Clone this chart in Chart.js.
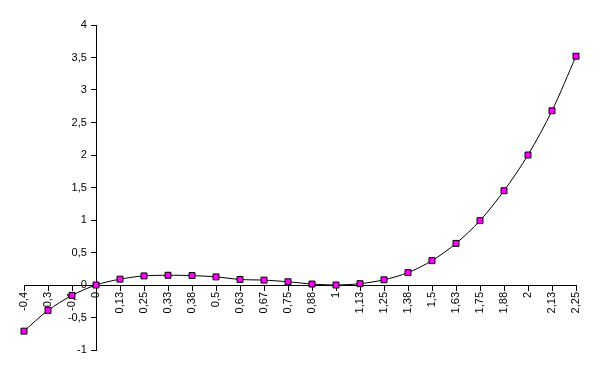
<!DOCTYPE html>
<html>
<head>
<meta charset="utf-8">
<script src="https://cdn.jsdelivr.net/npm/chart.js@4/dist/chart.umd.min.js"></script>
<style>
    body { margin: 0; background: #fff; }
    #wrap { width: 600px; height: 375px; }
</style>
</head>
<body>
<div id="wrap"><canvas id="chart" width="600" height="375"></canvas></div>
<script>
// Category labels along the x axis (as printed, comma decimals)
const xLabels = ["-0,4", "-0,3", "-0,1", "0", "0,13", "0,25", "0,33", "0,38", "0,5", "0,63", "0,67", "0,75",
    "0,88", "1", "1,13", "1,25", "1,38", "1,5", "1,63", "1,75", "1,88", "2", "2,13", "2,25"];

// Values
const yValues = [-0.71, -0.39, -0.16, 0, 0.09, 0.14, 0.15, 0.145, 0.125, 0.085, 0.075, 0.05,
    0.015, 0, 0.02, 0.08, 0.19, 0.375, 0.64, 0.99, 1.45, 2, 2.68, 3.52];

// Y axis range
const yMin = -1;
const yMax = 4;
const yStep = 0.5;

const ctx = document.getElementById("chart").getContext("2d");

new Chart(ctx, {
    type: "line",
    data: {
        labels: xLabels,
        datasets: [
            {
                data: yValues,
                borderColor: "#000000",
                borderWidth: 1,
                tension: 0.3,
                pointStyle: "rect",
                pointRadius: 4.2,
                pointBorderWidth: 1,
                pointBorderColor: "#000000",
                pointBackgroundColor: "#ff00ff",
            },
        ],
    },
    options: {
        responsive: false,
        animation: false,
        layout: {
            padding: { left: 24, right: 24, top: 25, bottom: 25 },
        },
        plugins: {
            legend: { display: false },
            tooltip: { enabled: false },
        },
        scales: {
            x: {
                type: "category",
                offset: false,
                position: { y: 0 },
                afterFit: (scale) => { scale.height = 0; },
                grid: {
                    drawOnChartArea: false,
                    tickLength: 5,
                    color: "#000000",
                },
                border: { color: "#000000", width: 1 },
                ticks: {
                    minRotation: 90,
                    maxRotation: 90,
                    autoSkip: false,
                    padding: 2,
                    color: "#000000",
                    font: { family: "'Liberation Sans', Arial, sans-serif", size: 11 },
                },
            },
            y: {
                min: yMin,
                max: yMax,
                position: { x: 3 },
                afterFit: (scale) => { scale.width = 0; },
                grid: {
                    drawOnChartArea: false,
                    tickLength: 5,
                    color: "#000000",
                },
                border: { color: "#000000", width: 1 },
                ticks: {
                    stepSize: yStep,
                    color: "#000000",
                    font: { family: "'Liberation Sans', Arial, sans-serif", size: 11 },
                    // labels sit on the axis line when it is placed at a value, so push them left
                    callback: (value) => String(value).replace(".", ",") + "   ",
                },
            },
        },
    },
});
</script>
</body>
</html>
